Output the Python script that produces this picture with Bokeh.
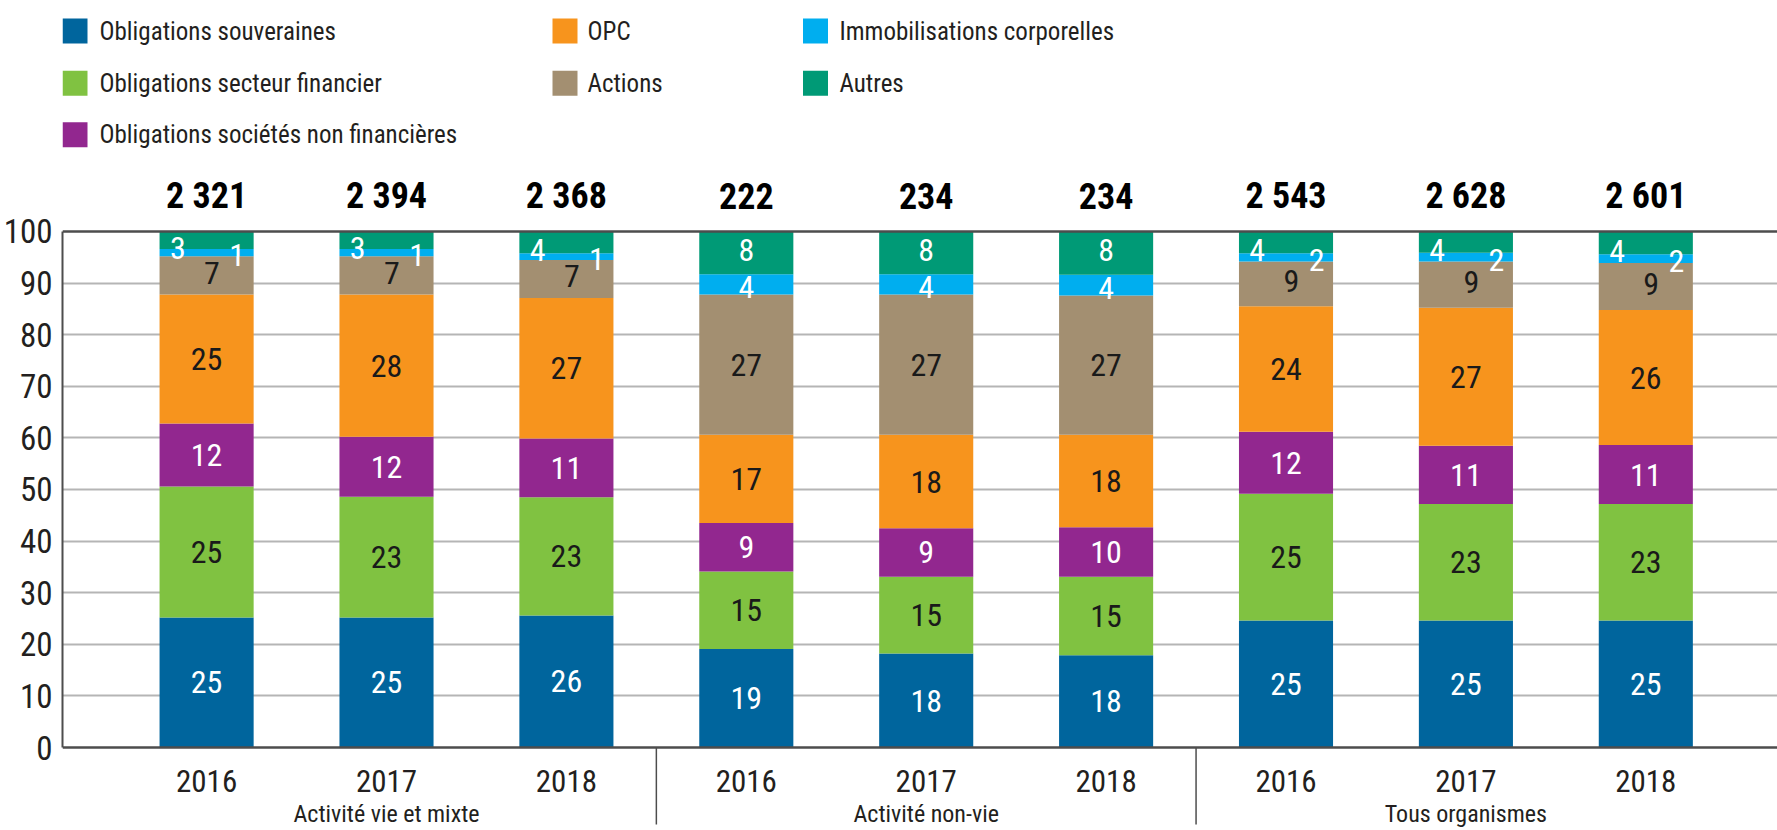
from bokeh.plotting import figure
from bokeh.models import Range1d, FixedTicker, Span, ColumnDataSource
from bokeh.core.properties import value
from bokeh.embed import file_html
from bokeh.resources import INLINE

# ---------------- data ----------------
groups = ["Activité vie et mixte", "Activité non-vie", "Tous organismes"]
years = ["2016", "2017", "2018"]
totals = ["2 321", "2 394", "2 368", "222", "234", "234", "2 543", "2 628", "2 601"]

series_names = ["Obligations souveraines", "Obligations secteur financier",
                "Obligations sociétés non financières", "OPC", "Actions",
                "Immobilisations corporelles", "Autres"]

souveraines = [25.2, 25.2, 25.6, 19.1, 18.2, 17.9, 24.6, 24.6, 24.6]
secteur_financier = [25.4, 23.4, 22.9, 15.0, 14.9, 15.2, 24.6, 22.6, 22.6]
non_financieres = [12.2, 11.6, 11.4, 9.4, 9.4, 9.6, 12.0, 11.3, 11.4]
opc = [25.0, 27.6, 27.2, 17.1, 18.1, 17.9, 24.3, 26.7, 26.2]
actions = [7.4, 7.4, 7.4, 27.2, 27.2, 27.0, 8.7, 9.0, 9.1]
immobilisations = [1.4, 1.4, 1.3, 3.9, 3.9, 4.0, 1.6, 1.7, 1.7]
autres = [3.4, 3.4, 4.2, 8.3, 8.3, 8.4, 4.2, 4.1, 4.4]

y_ticks = [0, 10, 20, 30, 40, 50, 60, 70, 80, 90, 100]

# ---------------- styling ----------------
colors = ["#00659d", "#80c241", "#92278f", "#f7941d", "#a38f71", "#00aeef", "#009a76"]
label_colors = ["white", "#1a1a1a", "white", "#1a1a1a", "#1a1a1a", "white", "white"]
FONT = "'Roboto Condensed', 'DejaVu Sans Condensed', sans-serif"
TXT = "#231f20"

W, H = 1777, 830
LEFT = 62
X0, X1 = -0.801, 8.732
Y0, Y1 = -16.085, 144.767


def dx(px):
    return X0 + (px - LEFT) / (W - LEFT) * (X1 - X0)


def dy(py):
    return Y1 - py / H * (Y1 - Y0)


series_values = [souveraines, secteur_financier, non_financieres, opc, actions,
                 immobilisations, autres]
keys = ["s%d" % i for i in range(len(series_values))]
n = len(souveraines)
xs = list(range(n))

data = {"x": xs}
for k, v in zip(keys, series_values):
    data[k] = v
source = ColumnDataSource(data)

p = figure(width=W, height=H, output_backend="svg", toolbar_location=None,
           x_range=Range1d(X0, X1), y_range=Range1d(Y0, Y1),
           x_axis_type=None, min_border_left=LEFT, min_border_right=0,
           min_border_top=0, min_border_bottom=0)
p.outline_line_color = None
p.background_fill_color = "white"
p.border_fill_color = "white"

# y axis
ax = p.yaxis[0]
ax.ticker = FixedTicker(ticks=y_ticks)
ax.bounds = (0, 100)
ax.axis_line_color = "#4d4d4d"
ax.axis_line_width = 2
ax.major_tick_line_color = None
ax.minor_tick_line_color = None
ax.major_label_text_font = FONT
ax.major_label_text_font_size = "33px"
ax.major_label_text_color = TXT
ax.major_label_standoff = 4

p.ygrid.ticker = FixedTicker(ticks=y_ticks[1:-1])
p.ygrid.grid_line_color = "#b5b5b5"
p.ygrid.grid_line_width = 2

# bars
p.vbar_stack(keys, x="x", width=0.523, color=colors, line_color=None, source=source)

# top and bottom dark lines
for yv in (0, 100):
    p.add_layout(Span(location=yv, dimension="width", line_color="#4d4d4d",
                      line_width=2.5))

# segment labels
lx, ly, lt, lc = [], [], [], []
for i in range(n):
    bottom = 0.0
    grp = i // 3
    for s, vals in enumerate(series_values):
        v = vals[i]
        c = bottom + v / 2
        x = i
        y = c
        if grp != 1:
            if s == 4:
                x = i + 0.03
                y = c + 0.5
            elif s == 5:
                x = i + 0.17
                y = c - 0.5
            elif s == 6:
                x = i - 0.16
                y = c - 1.5
        else:
            if s == 5:
                y = c - 0.6
            elif s == 6:
                y = c + 0.6
        lx.append(x)
        ly.append(y)
        lt.append(str(int(v + 0.5)))
        lc.append(label_colors[s])
        bottom += v

p.text(x=lx, y=ly, text=lt, text_color=lc, text_align="center",
       text_baseline="middle", text_font=value(FONT), text_font_size="32px")

# totals above bars
p.text(x=xs, y=[dy(195)] * n, text=totals, text_align="center",
       text_baseline="middle", text_font=value(FONT), text_font_size="36px",
       text_font_style="bold", text_color="#000000")

# year labels
p.text(x=xs, y=[dy(780)] * n, text=[years[i % 3] for i in xs], text_align="center",
       text_baseline="middle", text_font=value(FONT), text_font_size="31px",
       text_color=TXT)

# group labels
p.text(x=[1, 4, 7], y=[dy(813)] * 3, text=groups, text_align="center",
       text_baseline="middle", text_font=value(FONT), text_font_size="24px",
       text_color=TXT)

# group separators
p.segment(x0=[2.5, 5.5], y0=[0, 0], x1=[2.5, 5.5], y1=[dy(824)] * 2,
          line_color="#4d4d4d", line_width=1.5)

# legend (manual, 3 columns)
col_sq = [74.5, 564.5, 815]
col_tx = [99, 587, 839]
rows = [30.6, 82.7, 134.3]
layout = [(0, 0), (0, 1), (0, 2), (1, 0), (1, 1), (2, 0), (2, 1)]
sqx, sqy, txx, txy = [], [], [], []
for (c, r) in layout:
    sqx.append(dx(col_sq[c]))
    sqy.append(dy(rows[r]))
    txx.append(dx(col_tx[c]))
    txy.append(dy(rows[r]))
p.scatter(x=sqx, y=sqy, marker="square", size=25, color=colors, line_color=None)
p.text(x=txx, y=txy, text=series_names, text_align="left", text_baseline="middle",
       text_font=value(FONT), text_font_size="25px", text_color=TXT)

open("out.html", "w").write(file_html(p, INLINE))
